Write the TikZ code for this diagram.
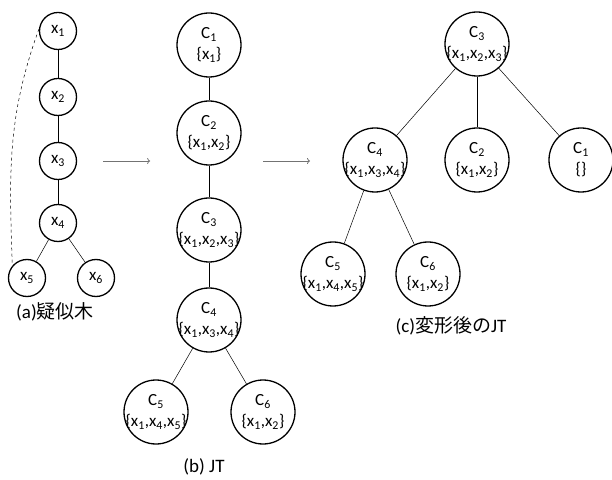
\documentclass[tikz,border=0pt]{standalone}
\usepackage{fontspec}
\setmainfont{Carlito}
\newfontfamily\jpfont{Noto Sans CJK JP}
\usetikzlibrary{arrows.meta, positioning}
\newcommand{\xs}[1]{x\textsubscript{#1}}
\tikzset{%
  >={To[length=3pt, width=6pt]},
  % Specifications for style of nodes:
    base/.style = {circle, draw=black, line width=1.3pt, inner sep=0pt,
                   text centered, font=\fontsize{17}{21}\selectfont},
    varNode/.style = {base, minimum size=37pt},
    cliqueNode/.style = {base, minimum size=64pt, inner sep=-8pt, align=center},
    caption/.style = {font=\fontsize{19}{21}\selectfont},
    treeEdge/.style = {line width=0.5pt},
}

\begin{document}
\begin{tikzpicture}[x=1pt, y=1pt, node distance=64pt]
  \useasboundingbox (0,0) rectangle (612,479);
  % (a) pseudo tree
  \node (x1)      [varNode] at (58,448) {\xs{1}};
  \node (x2)      [varNode, below of=x1, yshift=-2pt] {\xs{2}};
  \node (x3)      [varNode, below of=x2] {\xs{3}};
  \node (x4)      [varNode, below of=x3, yshift=2pt] {\xs{4}};
  \node (x5)      [varNode, below of=x4, xshift=-31pt, yshift=9pt] {\xs{5}};
  \node (x6)      [varNode, below of=x4, xshift=38pt, yshift=9pt] {\xs{6}};
  \node (captionA) [caption] at (55,167) {(a){\jpfont 疑似木}};

  % (b) junction tree
  \node (jtC1)    [cliqueNode] at (209,434) {C\textsubscript{1}\\\{\xs{1}\}};
  \node (jtC2)    [cliqueNode, below of=jtC1, yshift=-24pt] {C\textsubscript{2}\\\{\xs{1},\xs{2}\}};
  \node (jtC3)    [cliqueNode, below of=jtC2, yshift=-33pt] {C\textsubscript{3}\\\{\xs{1},\xs{2},\xs{3}\}};
  \node (jtC4)    [cliqueNode, below of=jtC3, yshift=-26pt] {C\textsubscript{4}\\\{\xs{1},\xs{3},\xs{4}\}};
  \node (jtC5)    [cliqueNode, below of=jtC4, xshift=-53pt, yshift=-28pt] {C\textsubscript{5}\\\{\xs{1},\xs{4},\xs{5}\}};
  \node (jtC6)    [cliqueNode, below of=jtC4, xshift=54pt, yshift=-28pt] {C\textsubscript{6}\\\{\xs{1},\xs{2}\}};
  \node (captionB) [caption] at (204,12) {(b) JT};

  % (c) junction tree after the change
  \node (newC3)   [cliqueNode] at (477,435) {C\textsubscript{3}\\\{\xs{1},\xs{2},\xs{3}\}};
  \node (newC4)   [cliqueNode, below of=newC3, xshift=-102pt, yshift=-52pt] {C\textsubscript{4}\\\{\xs{1},\xs{3},\xs{4}\}};
  \node (newC2)   [cliqueNode, below of=newC3, yshift=-52pt] {C\textsubscript{2}\\\{\xs{1},\xs{2}\}};
  \node (newC1)   [cliqueNode, below of=newC3, xshift=104pt, yshift=-52pt] {C\textsubscript{1}\\\{\}};
  \node (newC5)   [cliqueNode, below of=newC4, xshift=-42pt, yshift=-50pt] {C\textsubscript{5}\\\{\xs{1},\xs{4},\xs{5}\}};
  \node (newC6)   [cliqueNode, below of=newC4, xshift=53pt, yshift=-50pt] {C\textsubscript{6}\\\{\xs{1},\xs{2}\}};
  \node (captionC) [caption] at (451,153) {(c){\jpfont 変形後の}JT};

  \coordinate[right=26pt of x3.east] (arrowStartA);
  \coordinate[right=47pt of arrowStartA] (arrowEndA);
  \coordinate (arrowStartB) at (263,318);
  \coordinate[right=47pt of arrowStartB] (arrowEndB);

  % Specification of lines between nodes
  \draw[treeEdge]      (x1) -- (x2);
  \draw[treeEdge]      (x2) -- (x3);
  \draw[treeEdge]      (x3) -- (x4);
  \draw[treeEdge]      (x4) -- (x5);
  \draw[treeEdge]      (x4) -- (x6);
  \draw[treeEdge, dashed]  (x1.174) to[out=250, in=92] (x5.140);

  \draw[treeEdge]      (jtC1) -- (jtC2);
  \draw[treeEdge]      (jtC2) -- (jtC3);
  \draw[treeEdge]      (jtC3) -- (jtC4);
  \draw[treeEdge]      (jtC4) -- (jtC5);
  \draw[treeEdge]      (jtC4) -- (jtC6);

  \draw[treeEdge]      (newC3) -- (newC4);
  \draw[treeEdge]      (newC3) -- (newC2);
  \draw[treeEdge]      (newC3) -- (newC1);
  \draw[treeEdge]      (newC4) -- (newC5);
  \draw[treeEdge]      (newC4) -- (newC6);

  \draw[->, draw=black!55, line width=0.8pt]   (arrowStartA) -- (arrowEndA);
  \draw[->, draw=black!55, line width=0.8pt]   (arrowStartB) -- (arrowEndB);
\end{tikzpicture}
\end{document}
